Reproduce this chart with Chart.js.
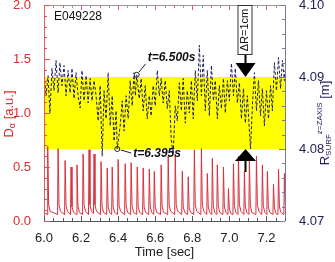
<!DOCTYPE html>
<html>
<head>
<meta charset="utf-8">
<script src="https://cdn.jsdelivr.net/npm/chart.js@4.4.1/dist/chart.umd.min.js"></script>
<style>
html, body { margin: 0; padding: 0; background: #fff; }
#wrap { width: 335px; height: 262px; }
</style>
</head>
<body>
<div id="wrap"><canvas id="myChart"></canvas></div>
<script>
// D-alpha trace (left axis, a.u.)
var dAlphaTime = [6.000,
  6.017,6.020,6.025,6.033, 6.073,6.076,6.081,6.089, 6.111,6.114,6.119,6.127, 6.143,6.146,6.151,6.159,
  6.175,6.178,6.183,6.191, 6.208,6.211,6.216,6.224, 6.240,6.243,6.248,6.256, 6.267,6.270,6.275,6.283,
  6.305,6.308,6.313,6.321, 6.338,6.341,6.346,6.354, 6.365,6.368,6.373,6.381, 6.397,6.400,6.405,6.413,
  6.435,6.438,6.443,6.451, 6.467,6.470,6.475,6.483, 6.500,6.503,6.508,6.516, 6.532,6.535,6.540,6.548,
  6.565,6.568,6.573,6.581, 6.592,6.595,6.600,6.608, 6.629,6.632,6.637,6.645, 6.667,6.670,6.675,6.683,
  6.705,6.708,6.713,6.721, 6.743,6.746,6.751,6.759, 6.775,6.778,6.783,6.791, 6.808,6.811,6.816,6.824,
  6.846,6.849,6.854,6.862, 6.878,6.881,6.886,6.894, 6.905,6.908,6.913,6.921, 6.932,6.935,6.940,6.948,
  6.965,6.968,6.973,6.981, 6.992,6.995,7.000,7.008, 7.019,7.022,7.027,7.035, 7.046,7.049,7.054,7.062,
  7.078,7.081,7.086,7.094, 7.105,7.108,7.113,7.121, 7.143,7.146,7.151,7.159, 7.175,7.178,7.183,7.191,
  7.202,7.205,7.210,7.218, 7.235,7.238,7.243,7.251, 7.262,7.265,7.270,7.278, 7.294,7.297,7.302];
var dAlphaValue = [0.08,
  0.06,0.69,0.15,0.09, 0.06,0.67,0.15,0.09, 0.06,0.56,0.14,0.09, 0.06,0.50,0.13,0.08,
  0.06,0.52,0.14,0.08, 0.06,0.62,0.15,0.09, 0.06,0.66,0.15,0.09, 0.07,0.62,0.15,0.09,
  0.06,0.55,0.14,0.08, 0.06,0.49,0.13,0.08, 0.06,0.50,0.13,0.08, 0.06,0.57,0.14,0.09,
  0.06,0.53,0.14,0.08, 0.06,0.54,0.14,0.08, 0.06,0.50,0.13,0.08, 0.06,0.49,0.13,0.08,
  0.06,0.48,0.13,0.08, 0.06,0.46,0.13,0.08, 0.06,0.52,0.14,0.08, 0.06,0.60,0.15,0.09,
  0.06,0.62,0.15,0.09, 0.06,0.46,0.13,0.08, 0.06,0.41,0.12,0.08, 0.06,0.66,0.15,0.09,
  0.06,0.67,0.15,0.09, 0.06,0.44,0.13,0.08, 0.06,0.58,0.14,0.08, 0.06,0.52,0.14,0.08,
  0.06,0.50,0.13,0.08, 0.06,0.30,0.11,0.07, 0.06,0.53,0.14,0.08, 0.06,0.60,0.15,0.09,
  0.06,0.46,0.13,0.08, 0.06,0.57,0.14,0.08, 0.06,0.60,0.15,0.09, 0.06,0.52,0.14,0.08,
  0.06,0.46,0.13,0.08, 0.06,0.34,0.12,0.07, 0.06,0.48,0.13,0.08, 0.06,0.44,0.15];

// R_surf at z=zaxis (right axis, m)
var rTime = [6.000,6.011,6.022,6.032,6.043,6.054,6.065,6.076,6.086,6.097,6.108,6.119,6.130,6.141,6.151,
  6.162,6.173,6.184,6.195,6.205,6.216,6.227,6.238,6.249,6.259,6.270,6.281,6.292,6.303,6.314,6.324,
  6.335,6.346,6.357,6.368,6.378,6.389,6.395,6.411,6.422,6.432,6.443,6.454,6.465,6.476,6.486,6.493,
  6.500,6.514,6.524,6.535,6.546,6.557,6.568,6.578,6.589,6.600,6.611,6.622,6.632,6.643,6.654,6.665,
  6.676,6.686,6.697,6.708,6.719,6.730,6.741,6.751,6.762,6.773,6.784,6.795,6.805,6.816,6.827,6.838,
  6.849,6.859,6.870,6.881,6.892,6.903,6.914,6.924,6.935,6.946,6.957,6.968,6.978,6.989,7.000,7.011,
  7.022,7.032,7.043,7.054,7.065,7.076,7.086,7.097,7.108,7.114,7.124,7.135,7.146,7.157,7.168,7.178,
  7.189,7.200,7.211,7.222,7.232,7.243,7.254,7.265,7.276,7.286,7.297,7.300];
var rValue = [4.0909,4.0874,4.0902,4.0850,4.0912,4.0881,4.0923,4.0878,4.0920,4.0888,4.0916,4.0874,4.0909,4.0878,4.0912,
  4.0870,4.0906,4.0874,4.0857,4.0909,4.0867,4.0902,4.0864,4.0898,4.0867,4.0895,4.0874,4.0839,4.0888,4.0790,4.0881,
  4.0842,4.0906,4.0832,4.0874,4.0811,4.0853,4.0800,4.0832,4.0867,4.0825,4.0874,4.0842,4.0895,4.0860,4.0906,4.0874,
  4.0903,4.0870,4.0898,4.0853,4.0888,4.0842,4.0874,4.0846,4.0888,4.0860,4.0909,4.0874,4.0898,4.0864,4.0895,4.0856,
  4.0881,4.0814,4.0793,4.0860,4.0839,4.0892,4.0853,4.0898,4.0836,4.0881,4.0850,4.0895,4.0842,4.0909,4.0867,4.0944,
  4.0874,4.0930,4.0853,4.0909,4.0846,4.0916,4.0867,4.0895,4.0842,4.0888,4.0856,4.0898,4.0850,4.0895,4.0867,4.0919,
  4.0874,4.0912,4.0864,4.0892,4.0842,4.0884,4.0836,4.0874,4.0825,4.0800,4.0860,4.0906,4.0853,4.0895,4.0846,4.0884,
  4.0832,4.0881,4.0842,4.0888,4.0853,4.0920,4.0881,4.0927,4.0884,4.0923,4.0895,4.0909];

var markTime = [6.500, 6.395];
var markLabel = ['t=6.500s', 't=6.395s'];
var bandRange = [4.08, 4.09];
var arrowTime = 7.085;

var xTicks = [6.0, 6.2, 6.4, 6.6, 6.8, 7.0, 7.2];
var yLeftTicks = [0.0, 0.5, 1.0, 1.5, 2.0];
var yRightTicks = [4.07, 4.08, 4.09, 4.10];

var RED = '#dd2a2a';
var NAVY = '#1e1e5a';
var FONT = '"Liberation Sans", Arial, sans-serif';

Chart.defaults.font.family = FONT;

function xy(xs, ys) {
    return xs.map(function (x, i) { return {x: x, y: ys[i]}; });
}

var markPoints = markTime.map(function (t) {
    return {x: t, y: rValue[rTime.indexOf(t)]};
});

function rotatedText(ctx, cx, cy, parts, color) {
    ctx.save();
    ctx.translate(cx, cy);
    ctx.rotate(-Math.PI / 2);
    ctx.fillStyle = color;
    ctx.textBaseline = 'middle';
    ctx.textAlign = 'left';
    var total = 0;
    parts.forEach(function (p) { ctx.font = p.font; p.w = ctx.measureText(p.text).width; total += p.w; });
    var u = -total / 2;
    parts.forEach(function (p) {
        ctx.font = p.font;
        ctx.fillText(p.text, u, p.dy);
        u += p.w;
    });
    ctx.restore();
}

function stepList(from, to, step) {
    var out = [];
    var n = Math.round((to - from) / step);
    for (var i = 0; i <= n; i++) out.push(from + i * step);
    return out;
}

function noPad(s) {
    s.paddingTop = 0;
    s.paddingBottom = 0;
    s.paddingLeft = 0;
    s.paddingRight = 0;
}

var decor = {
    id: 'decor',
    beforeDatasetsDraw: function (chart) {
        var ctx = chart.ctx, a = chart.chartArea, yr = chart.scales.y1;
        var top = yr.getPixelForValue(bandRange[1]);
        var bot = yr.getPixelForValue(bandRange[0]);
        ctx.save();
        ctx.fillStyle = '#ffff00';
        ctx.fillRect(a.left, top, a.right - a.left, bot - top);
        ctx.restore();
    },
    afterDatasetsDraw: function (chart) {
        var ctx = chart.ctx, a = chart.chartArea;
        var xs = chart.scales.x, yl = chart.scales.y, yr = chart.scales.y1;
        ctx.save();
        ctx.lineWidth = 1;

        // frame
        ctx.strokeStyle = '#999';
        ctx.beginPath(); ctx.moveTo(a.left, a.top + 0.5); ctx.lineTo(a.right, a.top + 0.5); ctx.stroke();
        ctx.strokeStyle = '#555';
        ctx.beginPath(); ctx.moveTo(a.left, a.bottom + 0.5); ctx.lineTo(a.right, a.bottom + 0.5); ctx.stroke();
        ctx.strokeStyle = '#e06060';
        ctx.beginPath(); ctx.moveTo(a.left + 0.5, a.top); ctx.lineTo(a.left + 0.5, a.bottom); ctx.stroke();
        ctx.strokeStyle = '#7878a0';
        ctx.beginPath(); ctx.moveTo(a.right + 0.5, a.top); ctx.lineTo(a.right + 0.5, a.bottom); ctx.stroke();

        // x ticks (bottom and top)
        stepList(6.0, 7.3, 0.05).forEach(function (v, i) {
            var px = Math.round(xs.getPixelForValue(v)) + 0.5;
            var len = (i % 4 === 0) ? 5 : 3;
            ctx.strokeStyle = '#555';
            ctx.beginPath(); ctx.moveTo(px, a.bottom); ctx.lineTo(px, a.bottom - len); ctx.stroke();
            ctx.strokeStyle = (i % 2 === 0) ? '#e06060' : '#999';
            ctx.beginPath(); ctx.moveTo(px, a.top); ctx.lineTo(px, a.top + len); ctx.stroke();
        });
        // left ticks
        ctx.strokeStyle = '#e05050';
        stepList(0, 2, 0.1).forEach(function (v, i) {
            var py = Math.round(yl.getPixelForValue(v)) + 0.5;
            var len = (i % 5 === 0) ? 6 : 3;
            ctx.beginPath(); ctx.moveTo(a.left, py); ctx.lineTo(a.left + len, py); ctx.stroke();
        });
        // right ticks
        ctx.strokeStyle = '#7878a0';
        stepList(4.07, 4.10, 0.002).forEach(function (v, i) {
            var py = Math.round(yr.getPixelForValue(v)) + 0.5;
            var len = (i % 5 === 0) ? 6 : 3;
            ctx.beginPath(); ctx.moveTo(a.right, py); ctx.lineTo(a.right - len, py); ctx.stroke();
        });

        // shot number
        ctx.fillStyle = '#111';
        ctx.font = '12px ' + FONT;
        ctx.textBaseline = 'middle';
        ctx.textAlign = 'left';
        ctx.fillText('E049228', a.left + 10, 17);

        // time labels with leaders
        ctx.font = 'italic bold 12px ' + FONT;
        ctx.strokeStyle = '#222';
        var leadEnd = [[9, -11], [14, 4]];
        var textAt = [[11, -17], [16, 5]];
        markPoints.forEach(function (p, i) {
            var px = xs.getPixelForValue(p.x), py = yr.getPixelForValue(p.y);
            ctx.beginPath();
            ctx.moveTo(px + leadEnd[i][0] * 0.25, py + leadEnd[i][1] * 0.25);
            ctx.lineTo(px + leadEnd[i][0], py + leadEnd[i][1]);
            ctx.stroke();
            ctx.fillText(markLabel[i], px + textAt[i][0], py + textAt[i][1]);
        });

        // delta R arrows
        var ax = Math.round(xs.getPixelForValue(arrowTime)) + 0.5;
        var yTop = yr.getPixelForValue(bandRange[1]);
        var yBot = yr.getPixelForValue(bandRange[0]);
        ctx.fillStyle = '#000';
        ctx.strokeStyle = '#000';
        ctx.lineWidth = 2;
        ctx.beginPath(); ctx.moveTo(ax, 55); ctx.lineTo(ax, yTop - 13); ctx.stroke();
        ctx.beginPath(); ctx.moveTo(ax - 10, yTop - 14); ctx.lineTo(ax + 10, yTop - 14); ctx.lineTo(ax, yTop); ctx.closePath(); ctx.fill();
        ctx.beginPath(); ctx.moveTo(ax, yBot + 11); ctx.lineTo(ax, yBot + 23); ctx.stroke();
        ctx.beginPath(); ctx.moveTo(ax - 10.5, yBot + 12); ctx.lineTo(ax + 10.5, yBot + 12); ctx.lineTo(ax, yBot); ctx.closePath(); ctx.fill();
        ctx.lineWidth = 1;
        ctx.fillStyle = '#fff';
        ctx.fillRect(ax - 7.5, 5, 14, 50);
        ctx.strokeStyle = '#333';
        ctx.strokeRect(ax - 7.5, 5.5, 14, 49);
        rotatedText(ctx, ax - 0.5, 30, [{text: 'ΔR=1cm', font: '11px ' + FONT, dy: 0}], '#111');

        // axis titles
        rotatedText(ctx, 9, 114, [
            {text: 'D', font: '13px ' + FONT, dy: 0},
            {text: 'α', font: '9px ' + FONT, dy: 4},
            {text: ' [a.u.]', font: '13px ' + FONT, dy: 0}
        ], RED);
        rotatedText(ctx, 325, 123, [
            {text: 'R', font: '13px ' + FONT, dy: 0},
            {text: 'SURF', font: '8px ' + FONT, dy: 4},
            {text: 'z=ZAXIS', font: '8px ' + FONT, dy: -5},
            {text: ' [m]', font: '13px ' + FONT, dy: 0}
        ], NAVY);
        ctx.fillStyle = '#222';
        ctx.font = '13px ' + FONT;
        ctx.textAlign = 'center';
        ctx.fillText('Time [sec]', (a.left + a.right) / 2, 252);
        ctx.restore();
    }
};

var ctx = document.getElementById('myChart').getContext('2d');
var myChart = new Chart(ctx, {
    type: 'line',
    data: {
        datasets: [{
            label: 'markers',
            data: markPoints,
            yAxisID: 'y1',
            showLine: false,
            pointRadius: 2.5,
            pointBorderWidth: 1,
            pointBorderColor: '#222',
            pointBackgroundColor: 'rgba(255,255,255,0)'
        }, {
            label: 'R_surf',
            data: xy(rTime, rValue),
            yAxisID: 'y1',
            borderColor: NAVY,
            borderWidth: 1,
            borderDash: [3, 2],
            pointRadius: 0,
            tension: 0
        }, {
            label: 'D_alpha',
            data: xy(dAlphaTime, dAlphaValue),
            yAxisID: 'y',
            borderColor: '#d8303c',
            borderWidth: 1,
            pointRadius: 0,
            tension: 0
        }]
    },
    options: {
        responsive: true,
        maintainAspectRatio: false,
        animation: false,
        devicePixelRatio: 1,
        layout: { padding: { top: 3, left: 0, right: 0, bottom: 0 } },
        plugins: { legend: { display: false }, tooltip: { enabled: false } },
        scales: {
            x: {
                type: 'linear',
                min: 6.0,
                max: 7.3,
                afterBuildTicks: function (s) { s.ticks = xTicks.map(function (v) { return {value: v}; }); },
                afterFit: function (s) { s.height = 41; noPad(s); },
                grid: { display: false },
                border: { display: false },
                ticks: {
                    color: '#222', padding: 2, maxRotation: 0, autoSkip: false,
                    font: { size: 13 },
                    callback: function (v) { return v.toFixed(1); }
                }
            },
            y: {
                position: 'left',
                min: 0,
                max: 2,
                afterBuildTicks: function (s) { s.ticks = yLeftTicks.map(function (v) { return {value: v}; }); },
                afterFit: function (s) { s.width = 44; noPad(s); },
                grid: { display: false },
                border: { display: false },
                ticks: {
                    color: RED, padding: 5, font: { size: 13 },
                    callback: function (v) { return v.toFixed(1); }
                }
            },
            y1: {
                position: 'right',
                min: 4.07,
                max: 4.10,
                afterBuildTicks: function (s) { s.ticks = yRightTicks.map(function (v) { return {value: v}; }); },
                afterFit: function (s) { s.width = 50; noPad(s); },
                grid: { display: false },
                border: { display: false },
                ticks: {
                    color: NAVY, padding: 6, font: { size: 13 },
                    callback: function (v) { return v.toFixed(2); }
                }
            }
        }
    },
    plugins: [decor]
});
</script>
</body>
</html>
